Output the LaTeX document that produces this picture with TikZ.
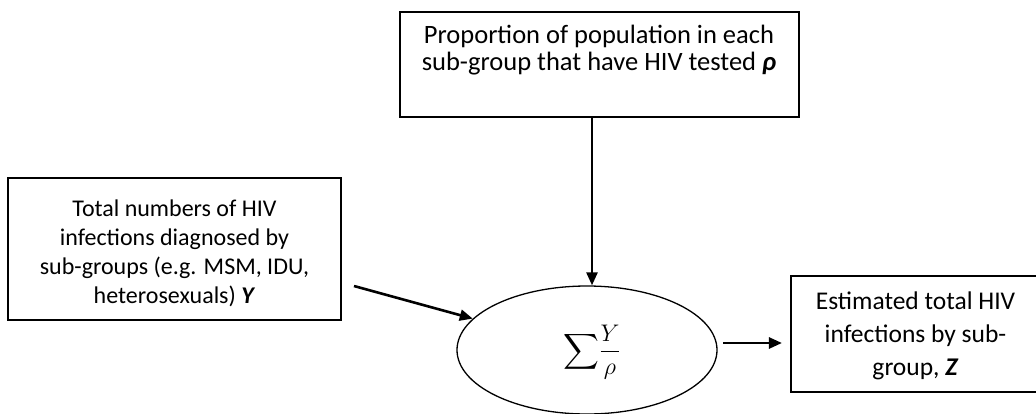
\documentclass[tikz,border=0pt]{standalone}
\usepackage{fix-cm}
\usepackage{amsmath}
\usepackage{fontspec}
\setmainfont{Carlito}
\usetikzlibrary{arrows.meta,shapes.geometric}

\tikzset{
  box/.style={draw, line width=2.1pt, inner sep=0pt},
  boxtext/.style={align=center, inner sep=0pt},
  flowarrow/.style={line width=2.6pt, -{Triangle[length=13pt,width=11pt]}},
  sumnode/.style={draw, ellipse, line width=1.3pt, inner sep=0pt}
}

\begin{document}
\begin{tikzpicture}[x=1pt,y=-1pt]
  \useasboundingbox (0,0) rectangle (1036,413);

  % input: testing proportion
  \node[box, minimum width=399pt, minimum height=105pt] (top) at (599.5,64.5) {};
  \node[boxtext, font=\fontsize{26.5}{27}\selectfont] (toptext) at (599,50)
    {Proportion of population in each\\sub-group that have HIV tested \textbf{\textit{ρ}}};

  % input: diagnosed infections
  \node[box, minimum width=333pt, minimum height=142pt] (left) at (174.5,249) {};
  \node[boxtext, font=\fontsize{24}{29}\selectfont] (lefttext) at (174.5,253)
    {Total numbers of HIV\\infections diagnosed by\\sub-groups (e.g. MSM, IDU,\\heterosexuals) \textbf{\textit{Y}}};

  % output: estimated infections
  \node[box, minimum width=249pt, minimum height=116pt] (right) at (915.5,334) {};
  \node[boxtext, font=\fontsize{25.5}{33}\selectfont] (righttext) at (915.5,336)
    {Estimated total HIV\\infections by sub-\\group, \textbf{\textit{Z}}};

  % summation step
  \node[sumnode, minimum width=260pt, minimum height=128pt] (sum) at (587,350) {};
  \node[inner sep=0pt] (sumtext) at (592,352)
    {{\fontsize{34}{34}\selectfont$\displaystyle\sum$}{\fontsize{24}{24}\selectfont\raisebox{3pt}{$\displaystyle\frac{Y}{\rho}$}}};

  % connectors
  \coordinate (vstart) at (592,117);
  \draw[flowarrow] (vstart) -- (vstart |- sum.north);

  \coordinate (lstart) at (354,286);
  \draw[flowarrow] (lstart) -- (sum);

  \coordinate (rstart) at (723,343);
  \draw[flowarrow, shorten >=8pt] (rstart) -- (rstart -| right.west);
\end{tikzpicture}
\end{document}
